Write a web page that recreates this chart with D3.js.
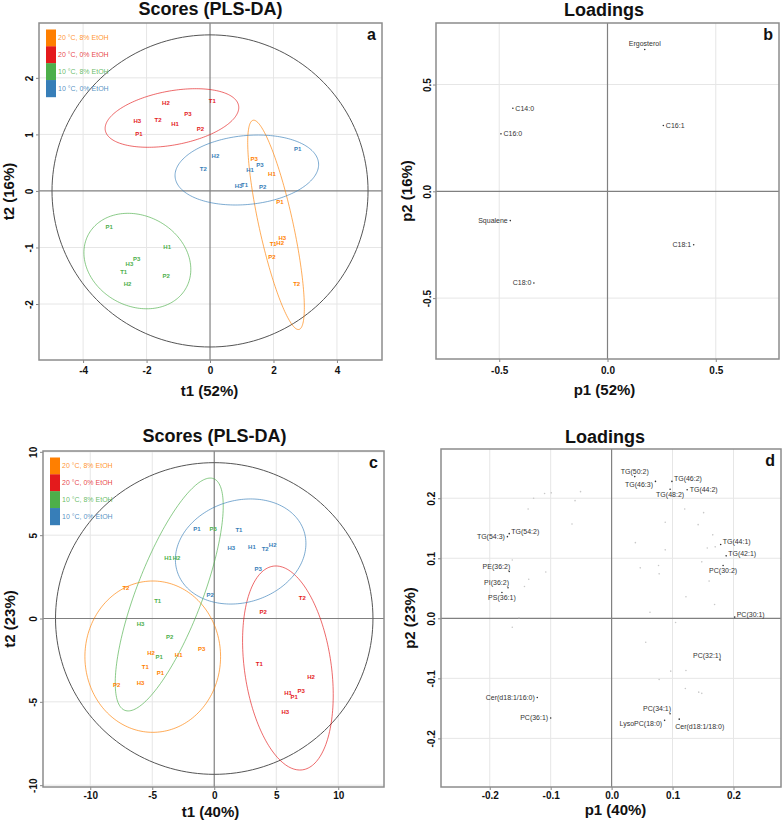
<!DOCTYPE html>
<html><head><meta charset="utf-8">
<script src="https://cdn.jsdelivr.net/npm/d3@7"></script>
<style>body{margin:0;background:#fff;} svg{display:block;}</style>
</head><body>
<svg id="chart" width="784" height="824"></svg>
<script>
// ---------------- DATA ----------------
const groupNames = ["20 °C, 8% EtOH", "20 °C, 0% EtOH", "10 °C, 8% EtOH", "10 °C, 0% EtOH"];

// Panel a: PLS-DA scores [sample, t1, t2]
const scoresA_20C_8 = [["P3",1.39,0.57],["H1",1.95,0.30],["P1",2.20,-0.19],["H3",2.28,-0.83],["T1",1.99,-0.93],["H2",2.21,-0.92],["P2",1.95,-1.16],["T2",2.73,-1.64]];
const scoresA_20C_0 = [["H2",-1.39,1.55],["T1",0.07,1.59],["H3",-2.29,1.24],["T2",-1.64,1.26],["P3",-0.70,1.36],["H1",-1.10,1.18],["P2",-0.30,1.09],["P1",-2.24,1.00]];
const scoresA_10C_8 = [["P1",-3.18,-0.63],["H1",-1.35,-0.99],["P3",-2.31,-1.21],["H3",-2.54,-1.29],["T1",-2.72,-1.43],["P2",-1.38,-1.51],["H2",-2.60,-1.65]];
const scoresA_10C_0 = [["P1",2.76,0.75],["H2",0.17,0.61],["T2",-0.21,0.38],["P3",1.57,0.45],["H1",1.26,0.37],["H3",0.90,0.09],["T1",1.09,0.11],["P2",1.66,0.07]];
// group ellipses: [centre t1, centre t2, semi-axis u (t1,t2), semi-axis v (t1,t2)]
const ellipsesA = [
  [2.08,-0.60, 0.723,-1.85, -0.523,-0.065],
  [-1.20,1.29, 2.10,0.22, 0.157,-0.469],
  [-2.29,-1.24, 1.543,-0.469, -0.676,-0.702],
  [1.16,0.37, 2.26,0.125, 0.106,-0.606]
];
const hotellingA = [4.98, 2.76];

// Panel b: loadings
const loadNamesB = ["Ergosterol","C14:0","C16:0","C16:1","Squalene","C18:1","C18:0"];
const loadP1B = [0.172,-0.437,-0.492,0.258,-0.449,0.398,-0.340];
const loadP2B = [0.664,0.389,0.269,0.308,-0.137,-0.250,-0.429];

// Panel c: PLS-DA scores [sample, t1, t2]
const scoresC_20C_8 = [["T2",-7.12,1.81],["H2",-5.10,-2.09],["H1",-2.87,-2.19],["P3",-1.02,-1.81],["T1",-5.56,-2.91],["P1",-4.35,-3.25],["H3",-5.94,-3.87],["P2",-7.87,-3.99]];
const scoresC_20C_0 = [["T2",7.10,1.23],["P2",3.95,0.37],["T1",3.63,-2.71],["H2",7.80,-3.51],["P3",7.02,-4.33],["H1",5.95,-4.48],["P1",6.45,-4.72],["H3",5.73,-5.63]];
const scoresC_10C_8 = [["P3",-0.08,5.35],["H1",-3.72,3.63],["H2",-3.04,3.63],["T1",-4.56,1.05],["H3",-5.94,-0.31],["P2",-3.60,-1.11],["P1",-4.44,-2.31]];
const scoresC_10C_0 = [["P1",-1.40,5.35],["T1",1.99,5.29],["H3",1.37,4.21],["H1",3.04,4.27],["T2",4.11,4.15],["H2",4.71,4.39],["P3",3.55,2.97],["P2",-0.32,1.41]];
const ellipsesC = [
  [-4.96,-2.29, 5.47,0, 0,4.54],
  [5.94,-2.97, 1.18,-6.11, -3.46,-0.37],
  [-3.63,1.44, -3.58,-6.95, -2.48,0.71],
  [2.13,4.02, 5.12,1.19, 1.22,-2.92]
];
const hotellingC = [12.8, 9.35];

// Panel d: loadings (labelled)
const loadNamesD = ["TG(50:2)","TG(46:3)","TG(46:2)","TG(48:2)","TG(44:2)","TG(54:2)","TG(54:3)","PE(36:2)","PI(36:2)","PS(36:1)","TG(44:1)","TG(42:1)","PC(30:2)","PC(30:1)","PC(32:1)","Cer(d18:1/16:0)","PC(36:1)","PC(34:1)","LysoPC(18:0)","Cer(d18:1/18:0)"];
const loadP1D = [0.038,0.072,0.099,0.096,0.124,-0.168,-0.171,-0.168,-0.170,-0.180,0.179,0.188,0.183,0.202,0.178,-0.122,-0.100,0.096,0.087,0.111];
const loadP2D = [0.236,0.228,0.228,0.215,0.214,0.141,0.136,0.078,0.051,0.043,0.123,0.104,0.088,0.002,-0.0695,-0.132,-0.166,-0.159,-0.170,-0.168];
// Panel d: other (unlabelled) loadings
const otherP1D = [-0.110,-0.128,-0.137,-0.099,-0.051,-0.060,-0.065,-0.108,-0.136,-0.143,-0.163,-0.152,-0.163,0.039,0.047,0.077,0.078,0.088,0.088,0.120,0.151,0.142,0.166,0.157,0.170,0.148,0.160,0.122,0.169,0.063,0.105,0.056,0.097,0.122,0.078,0.121,0.143,0.148];
const otherP2D = [0.208,0.200,0.182,0.209,0.211,0.196,0.157,0.077,0.065,0.053,0.097,0.001,-0.015,0.126,0.084,0.088,0.074,0.160,0.114,0.182,0.176,0.156,0.139,0.117,0.119,0.094,0.062,0.036,0.023,0.010,-0.007,-0.040,-0.088,-0.087,-0.102,-0.117,-0.123,-0.125];

// ---------------- STYLE ----------------
const FONT = "'Liberation Sans', Arial, Helvetica, sans-serif";
const groupColors = ["#FF7F00", "#E41A1C", "#4DAF4A", "#377EB8"];
const labelSideB = {"Ergosterol":"t","C14:0":"r","C16:0":"r","C16:1":"r","Squalene":"l","C18:1":"l","C18:0":"l"};
const labelSideD = {"TG(50:2)":"t","TG(46:3)":"bl","TG(46:2)":"tr","TG(48:2)":"b","TG(44:2)":"r","TG(54:2)":"tr","TG(54:3)":"l","PE(36:2)":"tl","PI(36:2)":"tl","PS(36:1)":"b","TG(44:1)":"tr","TG(42:1)":"tr","PC(30:2)":"b","PC(30:1)":"tr","PC(32:1)":"tl","Cer(d18:1/16:0)":"l","PC(36:1)":"l","PC(34:1)":"tl","LysoPC(18:0)":"bl","Cer(d18:1/18:0)":"br"};
const labelOffsets = {r:[2.5,0,"start"], l:[-2.5,0,"end"], t:[0,-5.5,"middle"], b:[0,5.5,"middle"], tr:[2,-2.5,"start"], tl:[1,-5,"end"], bl:[-2.5,3.5,"end"], br:[-4,7,"start"]};

const svg = d3.select("#chart").attr("font-family", FONT);
const defs = svg.append("defs");
const fmt0 = d => String(d);
const fmt1 = d => d.toFixed(1);

function makePanel(c) {
  const x = d3.scaleLinear().domain(c.xDomain).range([c.x0, c.x1]);
  const y = d3.scaleLinear().domain(c.yDomain).range([c.y1, c.y0]);
  const g = svg.append("g");
  defs.append("clipPath").attr("id", "clip-" + c.id).append("rect")
    .attr("x", c.x0).attr("y", c.y0).attr("width", c.x1 - c.x0).attr("height", c.y1 - c.y0);
  g.append("rect").attr("x", c.x0).attr("y", c.y0).attr("width", c.x1 - c.x0).attr("height", c.y1 - c.y0).attr("fill", "#fff");
  g.append("g").selectAll("line").data(c.xTicks.filter(v => v !== 0)).join("line")
    .attr("x1", d => x(d)).attr("x2", d => x(d)).attr("y1", c.y0).attr("y2", c.y1)
    .attr("stroke", "#e6e6e6").attr("stroke-width", 1);
  g.append("g").selectAll("line").data(c.yTicks.filter(v => v !== 0)).join("line")
    .attr("y1", d => y(d)).attr("y2", d => y(d)).attr("x1", c.x0).attr("x2", c.x1)
    .attr("stroke", "#e6e6e6").attr("stroke-width", 1);
  g.append("line").attr("x1", x(0)).attr("x2", x(0)).attr("y1", c.y0).attr("y2", c.y1).attr("stroke", "#808080").attr("stroke-width", 1.2);
  g.append("line").attr("y1", y(0)).attr("y2", y(0)).attr("x1", c.x0).attr("x2", c.x1).attr("stroke", "#808080").attr("stroke-width", 1.2);

  const ax = g.append("g").attr("transform", `translate(0,${c.y1})`)
    .call(d3.axisBottom(x).tickValues(c.xTicks).tickFormat(c.fmt).tickSize(3).tickPadding(c.xPad));
  ax.select(".domain").remove();
  ax.attr("font-family", FONT).attr("font-size", 10);
  ax.selectAll("line").attr("stroke", "#888");
  ax.selectAll("text").attr("font-weight", "bold").attr("fill", "#111");

  const ay = g.append("g").attr("transform", `translate(${c.x0},0)`)
    .call(d3.axisLeft(y).tickValues(c.yTicks).tickFormat(c.fmt).tickSize(3));
  ay.select(".domain").remove();
  ay.attr("font-family", FONT).attr("font-size", 10);
  ay.selectAll("line").attr("stroke", "#888");
  ay.selectAll("text").attr("x", 0).attr("dy", null).attr("text-anchor", "middle")
    .attr("transform", `translate(${-c.yOff},0) rotate(-90)`)
    .attr("font-weight", "bold").attr("fill", "#111");

  const plot = g.append("g").attr("clip-path", `url(#clip-${c.id})`);

  svg.append("text").attr("x", c.titleX).attr("y", c.titleY).attr("text-anchor", "middle")
    .attr("font-size", 18).attr("font-weight", "bold").attr("fill", "#111").text(c.title);
  svg.append("text").attr("x", c.xlabelX).attr("y", c.xlabelY).attr("text-anchor", "middle")
    .attr("font-size", 15).attr("font-weight", "bold").attr("fill", "#111").text(c.xlabel);
  svg.append("text").attr("text-anchor", "middle")
    .attr("transform", `translate(${c.ylabelX},${(c.y0 + c.y1) / 2}) rotate(-90)`)
    .attr("font-size", 15).attr("font-weight", "bold").attr("fill", "#111").text(c.ylabel);

  return {x, y, g, plot, c};
}

function finishPanel(P) {
  const c = P.c;
  P.g.append("rect").attr("x", c.x0).attr("y", c.y0).attr("width", c.x1 - c.x0).attr("height", c.y1 - c.y0)
    .attr("fill", "none").attr("stroke", "#8c8c8c").attr("stroke-width", 1.5);
  P.g.append("text").attr("x", c.x1 - 6).attr("y", c.y0 + 17).attr("text-anchor", "end")
    .attr("font-size", 16).attr("font-weight", "bold").attr("fill", "#111").text(c.letter);
}

function ellipsePts(e) {
  const [cx, cy, ux, uy, vx, vy] = e;
  return d3.range(0, 361, 2).map(deg => {
    const t = deg * Math.PI / 180;
    return [cx + ux * Math.cos(t) + vx * Math.sin(t), cy + uy * Math.cos(t) + vy * Math.sin(t)];
  });
}

function drawScores(P, groupsData, ellipses, hot) {
  const line = d3.line().x(d => P.x(d[0])).y(d => P.y(d[1]));
  P.plot.append("path").attr("d", line(ellipsePts([0, 0, hot[0], 0, 0, hot[1]])))
    .attr("fill", "none").attr("stroke", "#555").attr("stroke-width", 1);
  ellipses.forEach((e, i) => P.plot.append("path").attr("d", line(ellipsePts(e)))
    .attr("fill", "none").attr("stroke", groupColors[i]).attr("stroke-opacity", 0.65).attr("stroke-width", 1));
  groupsData.forEach((arr, i) => P.plot.append("g").selectAll("text").data(arr).join("text")
    .attr("x", d => P.x(d[1])).attr("y", d => P.y(d[2])).text(d => d[0])
    .attr("text-anchor", "middle").attr("dominant-baseline", "central")
    .attr("font-size", 6).attr("font-weight", "bold").attr("fill", groupColors[i]));
  // legend
  const lx = P.c.x0 + 7, ly = P.c.y0 + 6.5, bh = 16.85;
  const lg = P.g.append("g");
  groupNames.forEach((name, i) => {
    lg.append("rect").attr("x", lx).attr("y", ly + i * bh).attr("width", 10).attr("height", bh + 0.3).attr("fill", groupColors[i]);
    lg.append("text").attr("x", lx + 12).attr("y", ly + i * bh + bh / 2).attr("dominant-baseline", "central")
      .attr("font-size", 7).attr("fill", groupColors[i]).attr("fill-opacity", 0.85).text(name);
  });
}

function drawLoadings(P, names, p1, p2, sides) {
  const pts = names.map((n, i) => ({n, a: p1[i], b: p2[i]}));
  P.plot.append("g").selectAll("circle").data(pts).join("circle")
    .attr("cx", d => P.x(d.a)).attr("cy", d => P.y(d.b)).attr("r", 0.8).attr("fill", "#333");
  P.plot.append("g").selectAll("text").data(pts).join("text")
    .attr("x", d => P.x(d.a) + labelOffsets[sides[d.n]][0])
    .attr("y", d => P.y(d.b) + labelOffsets[sides[d.n]][1])
    .attr("text-anchor", d => labelOffsets[sides[d.n]][2])
    .attr("dominant-baseline", "central").attr("font-size", 7).attr("fill", "#333").text(d => d.n);
}

// ---------------- PANELS ----------------
const A = makePanel({id: "a", x0: 39, x1: 382, y0: 23, y1: 360, xDomain: [-5.39, 5.42], yDomain: [-2.99, 2.97],
  xTicks: [-4, -2, 0, 2, 4], yTicks: [-2, -1, 0, 1, 2], fmt: fmt0, xPad: 4, yOff: 6,
  title: "Scores (PLS-DA)", titleX: 210.5, titleY: 15, letter: "a",
  xlabel: "t1 (52%)", xlabelX: 209.5, xlabelY: 396, ylabel: "t2 (16%)", ylabelX: 14});
drawScores(A, [scoresA_20C_8, scoresA_20C_0, scoresA_10C_8, scoresA_10C_0], ellipsesA, hotellingA);
finishPanel(A);

const B = makePanel({id: "b", x0: 436, x1: 779, y0: 23, y1: 359, xDomain: [-0.792, 0.792], yDomain: [-0.785, 0.788],
  xTicks: [-0.5, 0, 0.5], yTicks: [-0.5, 0, 0.5], fmt: fmt1, xPad: 4.6, yOff: 5,
  title: "Loadings", titleX: 604, titleY: 16, letter: "b",
  xlabel: "p1 (52%)", xlabelX: 604.5, xlabelY: 395, ylabel: "p2 (16%)", ylabelX: 412});
drawLoadings(B, loadNamesB, loadP1B, loadP2B, labelSideB);
finishPanel(B);

const C = makePanel({id: "c", x0: 43, x1: 384, y0: 451, y1: 787, xDomain: [-13.81, 13.69], yDomain: [-10.11, 10.05],
  xTicks: [-10, -5, 0, 5, 10], yTicks: [-10, -5, 0, 5, 10], fmt: fmt0, xPad: 1.5, yOff: 6,
  title: "Scores (PLS-DA)", titleX: 214.5, titleY: 441.5, letter: "c",
  xlabel: "t1 (40%)", xlabelX: 210.5, xlabelY: 817, ylabel: "t2 (23%)", ylabelX: 15});
drawScores(C, [scoresC_20C_8, scoresC_20C_0, scoresC_10C_8, scoresC_10C_0], ellipsesC, hotellingC);
finishPanel(C);

const D = makePanel({id: "d", x0: 441, x1: 781, y0: 449, y1: 787, xDomain: [-0.280, 0.278], yDomain: [-0.281, 0.282],
  xTicks: [-0.2, -0.1, 0, 0.1, 0.2], yTicks: [-0.2, -0.1, 0, 0.1, 0.2], fmt: fmt1, xPad: 2, yOff: 6.5,
  title: "Loadings", titleX: 605, titleY: 443, letter: "d",
  xlabel: "p1 (40%)", xlabelX: 615.5, xlabelY: 815, ylabel: "p2 (23%)", ylabelX: 415});
D.plot.append("g").selectAll("circle").data(otherP1D.map((v, i) => [v, otherP2D[i]])).join("circle")
  .attr("cx", d => D.x(d[0])).attr("cy", d => D.y(d[1])).attr("r", 0.8).attr("fill", "#c8c8c8");
drawLoadings(D, loadNamesD, loadP1D, loadP2D, labelSideD);
finishPanel(D);
</script>
</body></html>
